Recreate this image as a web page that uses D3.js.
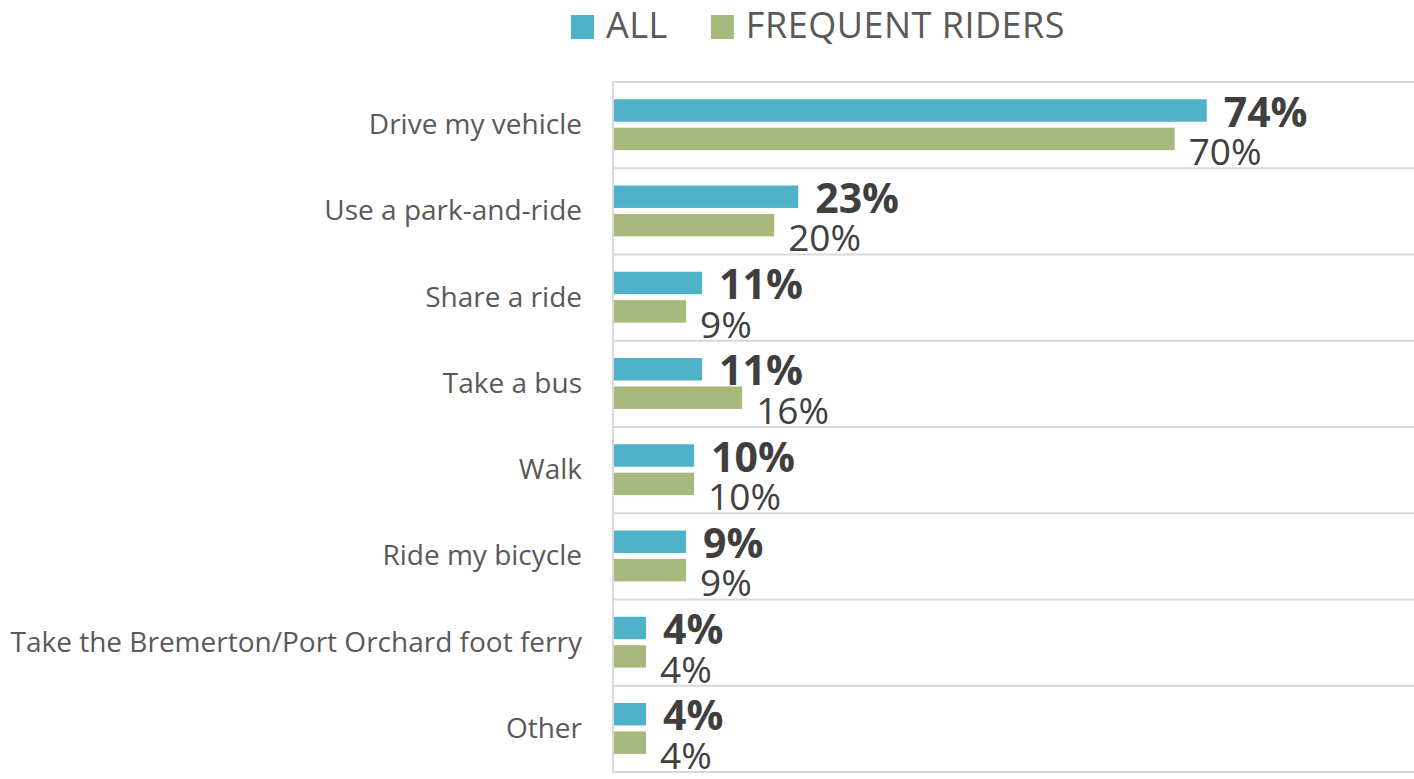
<!DOCTYPE html>
<html>
<head>
<meta charset="utf-8">
<script src="https://cdn.jsdelivr.net/npm/d3@7"></script>
<style>
  html, body { margin: 0; padding: 0; background: #fff; }
  svg { display: block; font-family: "Open Sans", sans-serif; }
</style>
</head>
<body>
<div id="chart"></div>
<script>
var categories = [
  'Drive my vehicle',
  'Use a park-and-ride',
  'Share a ride',
  'Take a bus',
  'Walk',
  'Ride my bicycle',
  'Take the Bremerton/Port Orchard foot ferry',
  'Other'
];
var seriesNames = ['ALL', 'FREQUENT RIDERS'];
var allValues = [74, 23, 11, 11, 10, 9, 4, 4];
var frequentValues = [70, 20, 9, 16, 10, 9, 4, 4];
var colors = ['#4eb3c8', '#a8b97e'];

var w = 1414,
    h = 779,
    plotLeft = 613,
    plotTop = 82,
    plotBottom = 772;

var data = categories.map(function (c, i) {
  return { name: c, vals: [allValues[i], frequentValues[i]] };
});

var svg = d3.select('#chart')
  .append('svg')
  .attr('width', w)
  .attr('height', h)
  .attr('viewBox', '0 0 ' + w + ' ' + h);

var x = d3.scaleLinear().domain([0, 100]).range([plotLeft + 1, plotLeft + 802]);

var y0 = d3.scaleBand()
  .domain(categories)
  .range([plotTop, plotBottom]);

var bw = y0.bandwidth();

var y1 = d3.scaleBand()
  .domain(d3.range(seriesNames.length))
  .range([bw * 0.2, bw * 0.79])
  .paddingInner(0.21);

// gridlines between categories
var bounds = categories.map(function (c) { return y0(c); }).concat([plotBottom]);
svg.selectAll('line.grid').data(bounds)
  .enter()
  .append('line')
  .attr('class', 'grid')
  .attr('x1', plotLeft)
  .attr('x2', w)
  .attr('y1', function (d) { return d; })
  .attr('y2', function (d) { return d; })
  .attr('stroke', '#d9d9d9')
  .attr('stroke-width', 2);

svg.append('line')
  .attr('x1', plotLeft)
  .attr('x2', plotLeft)
  .attr('y1', plotTop - 1)
  .attr('y2', plotBottom + 1)
  .attr('stroke', '#d9d9d9')
  .attr('stroke-width', 2);

// category labels
svg.selectAll('text.cat').data(categories)
  .enter()
  .append('text')
  .attr('class', 'cat')
  .attr('x', plotLeft - 31)
  .attr('y', function (d) { return y0(d) + bw / 2 + 9; })
  .attr('text-anchor', 'end')
  .attr('fill', '#595959')
  .style('font-size', '28px')
  .text(function (d) { return d; });

var groups = svg.selectAll('g.cat').data(data)
  .enter()
  .append('g')
  .attr('class', 'cat')
  .attr('transform', function (d) { return 'translate(0 ' + y0(d.name) + ')'; });

groups.each(function (d) {
  var g = d3.select(this);
  d.vals.forEach(function (v, k) {
    g.append('rect')
      .attr('x', x(0))
      .attr('y', y1(k))
      .attr('width', x(v) - x(0))
      .attr('height', y1.bandwidth())
      .attr('fill', colors[k]);
  });

  // value labels
  g.append('text')
    .attr('x', x(d.vals[0]) + 17)
    .attr('y', y1(0) + y1.bandwidth() + 5)
    .attr('fill', '#3f3f3f')
    .style('font-size', '41px')
    .style('font-weight', 'bold')
    .text(d.vals[0] + '%');

  g.append('text')
    .attr('x', x(d.vals[1]) + 14)
    .attr('y', y1(1) + y1.bandwidth() + 15)
    .attr('fill', '#404040')
    .style('font-size', '37px')
    .text(d.vals[1] + '%');
});

// legend
var lx = 571;
seriesNames.forEach(function (s, i) {
  svg.append('rect')
    .attr('x', lx)
    .attr('y', 15)
    .attr('width', 23)
    .attr('height', 24)
    .attr('fill', colors[i]);
  var t = svg.append('text')
    .attr('x', lx + 35)
    .attr('y', 38)
    .attr('fill', '#595959')
    .style('font-size', '36px')
    .style('letter-spacing', '0.5px')
    .text(s);
  lx += 35 + t.node().getComputedTextLength() + 43;
});
</script>
</body>
</html>
